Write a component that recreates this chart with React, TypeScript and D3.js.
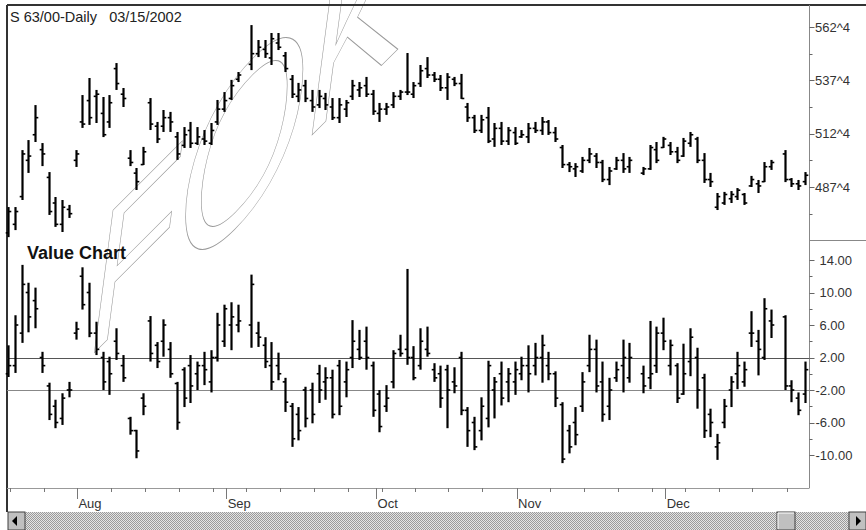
import React from "react";
import * as d3 from "d3";

const W = 866;
const H = 530;

const titleText = "S 63/00-Daily   03/15/2002";
const valueTitle = "Value Chart";
const watermarkLetters = ["F", "O", "K"];

// price ticks (in cents; ^4 = 4/8)
const priceTicks = [487.5, 512.5, 537.5, 562.5];
const priceMinorTicks = [475, 500, 525, 550];
const valueTicks = [14, 10, 6, 2, -2, -6, -10];
const valueMinorTicks = [12, 8, 4, 0, -4, -8];
const valueBands = [2, -2];
const monthLabels = ["Aug", "Sep", "Oct", "Nov", "Dec"];
const monthSlots = [10.2, 32.3, 54.5, 75.3, 97.3];
const weekSlots = [0.3, 5.3, 10.2, 15.2, 20.3, 25.3, 30.3, 35.3, 40.3, 45.3, 50.3, 55.3, 60.2, 65.1, 70.2, 75.3, 80.3, 85.3, 90.3, 95.3, 100.3, 105.2, 110.2, 115.3];

// OHLC price bars per trading slot [open, high, low, close]; null = no bar
const priceBars: ([number, number, number, number] | null)[] = [
  [466, 478.1, 464, 476], [470, 478.1, 467.3, 476], [483, 504.8, 481.4, 503], [500, 509.5, 494.1, 502],
  [512, 525.9, 508.6, 520], [505, 508.1, 497.3, 503], [492, 494.5, 474.4, 476], [480, 482.8, 468.8, 470],
  [470, 481.4, 466.4, 478], [477, 479.1, 473.0, 475], [500, 504.8, 496.9, 503], [518, 530.6, 515.2, 517],
  [528, 538.6, 516.6, 520], [530, 533.0, 517.5, 531], [522, 529.7, 510.9, 512], [518, 530.6, 515.2, 527],
  [543, 545.6, 533.0, 536], [531, 533.9, 525.0, 529], [501, 504.8, 497.3, 499], [494, 496.4, 486.1, 490],
  [498, 506.3, 497.8, 504], [527, 529.2, 514.2, 517], [516, 518.0, 508.1, 510], [516, 523.6, 513.3, 520],
  [520, 522.7, 513.3, 518], [511, 513.3, 500.2, 503], [507, 515.6, 505.8, 512], [514, 518.0, 505.8, 508],
  [508, 515.6, 507.2, 511], [510, 514.2, 507.2, 509], [508, 517.5, 507.2, 514], [518, 528.3, 516.6, 524],
  [524, 532.0, 522.7, 528], [529, 537.7, 528.3, 535], [538, 541.4, 536.7, 540], null,
  [545, 563.4, 542.3, 550], [550, 556.4, 548.4, 553], [552, 556.4, 548.0, 550], [548, 559.7, 544.7, 557],
  [555, 559.7, 551.7, 553], [549, 550.8, 541.4, 543], [538, 540.0, 529.2, 531], [530, 536.3, 527.3, 533],
  [535, 537.7, 527.3, 529], [528, 533.0, 522.7, 525], [526, 533.0, 524.5, 530], [529, 531.6, 523.6, 526],
  [525, 529.2, 518.9, 520], [520, 529.2, 517.5, 526], [524, 528.3, 520.3, 527], [530, 537.7, 528.3, 535],
  [533, 536.7, 529.7, 534], [535, 539.1, 529.7, 531], [531, 533.0, 521.3, 523], [522, 526.9, 518.0, 524],
  [524, 526.9, 521.3, 525], [526, 532.0, 524.5, 530], [530, 533.0, 528.3, 532], [532, 550.3, 530.6, 532],
  [531, 536.7, 529.2, 535], [536, 544.7, 534.4, 542], [543, 548.4, 538.6, 540], [540, 541.4, 536.7, 538],
  [538, 540.0, 532.5, 534], [534, 540.9, 528.3, 539], [538, 539.1, 534.8, 536], [536, 540.5, 528.8, 529],
  [525, 526.9, 518.0, 520], [520, 521.3, 512.8, 514], [514, 521.3, 512.8, 519], [520, 525.0, 508.1, 509],
  [510, 517.5, 506.3, 515], [515, 518.0, 507.2, 509], [509, 515.6, 507.2, 514], [513, 515.6, 507.2, 508],
  [511, 514.2, 510.5, 512], [511, 517.5, 508.1, 515], [515, 518.0, 512.8, 514], [514, 520.3, 511.9, 518],
  [518, 518.9, 511.9, 513], [513, 515.6, 508.6, 510], [506, 507.2, 496.4, 498], [498, 499.2, 494.5, 497],
  [496, 498.7, 492.2, 497], [495, 501.6, 494.1, 500], [500, 505.8, 498.7, 503], [502, 503.4, 496.4, 499],
  [499, 500.2, 489.8, 491], [491, 496.9, 488.4, 495], [496, 501.6, 495.5, 500], [500, 503.4, 494.1, 496],
  [497, 501.6, 494.1, 500], null, [494, 496.9, 493.1, 496], [496, 507.2, 495.5, 506],
  [505, 508.6, 498.7, 500], [506, 511.0, 505.8, 510], [507, 508.6, 502.5, 504], [504, 506.3, 498.7, 500],
  [502, 510.5, 501.6, 509], [508, 513.3, 506.3, 512], [510, 511.0, 498.7, 500], [500, 503.4, 489.4, 491],
  [491, 494.1, 487.5, 490], [478, 484.7, 476.7, 483], [480, 485.2, 479.1, 484], [482, 485.6, 480.0, 484],
  [483, 487.0, 481.4, 486], [484, 484.7, 479.1, 480], [488, 492.7, 487.5, 491], [489, 490.8, 484.7, 488],
  [490, 499.2, 489.8, 497], [497, 500.2, 495.5, 499], null, [503, 504.8, 489.8, 491],
  [491, 491.7, 487.5, 489], [489, 490.8, 486.1, 488], [490, 494.5, 488.4, 493],
];

// Value chart bars per slot [open, high, low, close]
const valueBars: ([number, number, number, number] | null)[] = [
  [0, 3.5, -0.4, 1], [1, 7.2, 0.1, 6], [5, 13.4, 3.8, 11], [10, 11.2, 5.1, 7],
  [9, 10.6, 5.6, 8], [2, 2.7, 0.1, 1], [-1.5, -1.1, -5.7, -5], [-4, -3.2, -6.7, -6],
  [-5.5, -2.4, -6.3, -3], [-2, -1.0, -2.9, -2], [5, 6.4, 4.2, 5.5], [12, 13.1, 7.9, 8.5],
  [10, 11.2, 4.5, 5], [5, 6.4, 2.3, 3], [2, 2.7, -2.0, -1], [1.5, 2.1, -2.6, 0],
  [4, 5.6, 1.7, 2.5], [1, 2.3, -1.0, -0.5], [-5.5, -5.3, -7.5, -7], [-7, -6.9, -10.4, -9.5],
  [-3, -2.4, -5.1, -4], [6.5, 7.1, 1.5, 2.5], [3.5, 3.9, 0.7, 1.5], [4, 6.7, 2.1, 6],
  [3, 3.9, -0.5, 0], [-1.2, -1.0, -6.9, -6], [0.5, 0.8, -4.1, -3], [1, 2.3, -3.6, -1.5],
  [0, 1.5, -2.0, 1], [1, 2.7, -1.4, 0.5], [-1, 2.9, -2.3, 2], [2, 7.5, 1.5, 6],
  [4, 8.5, 3.3, 8], [6, 8.8, 2.9, 7], [6, 8.5, 5.1, 6.5], null,
  [6, 12.2, 3.2, 11], [5, 6.4, 3.3, 4.5], [3.5, 4.5, 0.7, 1.5], [1, 3.9, -2.0, -1],
  [1, 2.6, -0.8, 0], [-1, -0.5, -4.7, -3.5], [-4, -3.6, -9.0, -8], [-5, -4.1, -8.2, -7],
  [-2, -1.6, -6.6, -5.5], [-2, -1.1, -6.1, -5], [0, 1.1, -3.6, -2], [-1, 0.8, -3.2, -0.5],
  [-0.5, 0.5, -5.5, -5], [1, 1.7, -5.1, -4], [-1, 1.5, -2.9, 0.5], [2, 6.6, 0.7, 4],
  [3, 5.4, 1.7, 2], [4, 5.8, 0.5, 2], [1, 1.5, -5.3, -4.5], [-2.5, -2.0, -7.2, -6.5],
  [-4, -1.4, -4.7, -3], [-1, 2.9, -1.8, 2.5], [3, 4.8, 2.1, 2.5], [3, 12.9, 1.1, 2],
  [2, 3.4, -0.8, -0.5], [1, 5.6, 0.5, 4], [3, 5.8, 2.1, 2.5], [0.5, 1.3, -1.0, -0.5],
  [0, 1.0, -4.2, -3], [0.5, 1.1, -6.7, -2], [-1, 0.8, -2.4, -1.5], [2, 2.7, -5.1, -4.5],
  [-4.5, -4.1, -9.0, -7], [-6, -5.3, -9.4, -9], [-7, -2.9, -8.2, -4], [-5.5, 1.6, -6.6, 1],
  [-2, -0.4, -5.5, -1], [0, 1.5, -3.9, -3], [-1, 0.7, -3.5, 0], [-1, 1.5, -2.6, 0.5],
  [0, 2.1, -0.8, 1], [1, 3.5, -2.3, 0], [1, 3.8, -0.2, 2], [2, 4.8, -1.1, 3.5],
  [1, 2.7, -0.8, 0], [0, 0.3, -4.1, -3], [-3.8, -3.5, -11.0, -10.5], [-7, -6.3, -9.8, -9],
  [-6, -4.1, -8.8, -7.5], [-4, 0.2, -4.7, -1], [1, 4.8, 0.2, 3], [3, 4.2, -2.3, -1.5],
  [-1, 1.5, -5.9, -5], [-4, -0.5, -5.7, -2], [-0.5, 1.5, -1.0, 0.5], [1, 4.2, -2.3, 2],
  [-0.5, 3.8, -1.1, 2], null, [0, 1.0, -2.4, -1.5], [-0.5, 6.5, -1.9, 0],
  [1, 5.8, 0.1, 5], [5, 6.9, 2.9, 4], [1, 4.2, -0.2, 3.5], [1, 1.3, -3.6, -3],
  [-2.5, 3.7, -2.6, 0], [1.5, 5.6, -0.3, 4.5], [2, 3.2, -4.3, -2], [-0.5, 0, -7.9, -7],
  [-5, -4.3, -7.8, -6], [-9, -7.4, -10.6, -8.5], [-6, -3.1, -6.7, -4], [-2, -0.3, -4.1, -1],
  [0, 2.7, -1.9, 1], [-1, 1.5, -1.6, 0.5], [5, 7.7, 3.3, 5], [4, 5.4, -0.2, 3],
  [2, 9.3, 1.7, 8], [6.5, 7.9, 4.4, 6], null, [7, 7.2, -2.0, -1.5],
  [-1.5, -0.8, -3.5, -2], [-3, -2.3, -5.1, -4.5], [-2.5, 1.5, -3.6, 0.5],
];

const FONT = "'Liberation Sans', Arial, sans-serif";

function fmtPrice(v: number) {
  const whole = Math.floor(v);
  const eighths = Math.round((v - whole) * 8);
  return `${whole}^${eighths}`;
}

function Bars({ data, x, y }: { data: ([number, number, number, number] | null)[]; x: any; y: any }) {
  return (
    <g stroke="#000" fill="none">
      {data.map((d, i) => {
        if (!d) return null;
        const [o, h, l, c] = d;
        const cx = Math.round(x(i)) + 0.5;
        return (
          <g key={i}>
            <line x1={cx} x2={cx} y1={y(h)} y2={y(l)} strokeWidth={2.2} />
            <line x1={cx - 2.8} x2={cx} y1={y(o)} y2={y(o)} strokeWidth={1.6} />
            <line x1={cx} x2={cx + 2.8} y1={y(c)} y2={y(c)} strokeWidth={1.6} />
          </g>
        );
      })}
    </g>
  );
}

export default function App() {
  const left = 7;
  const plotRight = 809.5;
  const top = 5;
  const split = 240;
  const plotBottom = 488;

  const x = d3.scaleLinear().domain([0, 118]).range([8, 805]);
  const yP = d3.scaleLinear().domain([487.5, 562.5]).range([187, 27]);
  const yV = d3.scaleLinear().domain([-10, 14]).range([455, 260]);

  // watermark letter placement in the skewed local frame
  const wmX = [0, 111, 279];
  const wmY = [0, 15, 0];
  const wmSize = [180, 216, 190];

  return (
    <svg width={W} height={H} style={{ position: "fixed", left: 0, top: 0, background: "#fff" }} fontFamily={FONT}>
      <defs>
        <pattern id="dither" width={2} height={2} patternUnits="userSpaceOnUse">
          <rect width={2} height={2} fill="#e4e4e4" />
          <rect width={1} height={1} fill="#9a9a9a" />
          <rect x={1} y={1} width={1} height={1} fill="#9a9a9a" />
        </pattern>
      </defs>
      <rect width={W} height={H} fill="#fff" />

      {/* watermark */}
      <g transform="translate(90,357) skewY(-45) scale(0.78,1)">
        {watermarkLetters.map((ch, i) => (
          <text
            key={ch}
            x={wmX[i]}
            y={wmY[i]}
            fontFamily="'Liberation Sans', Arial, sans-serif"
            fontStyle="italic"
            fontSize={wmSize[i]}
            fill="none"
            stroke="#9a9a9a"
            strokeWidth={0.8}
          >
            {ch}
          </text>
        ))}
      </g>

      {/* frame */}
      <line x1={left} x2={W} y1={top} y2={top} stroke="#333" strokeWidth={2} />
      <line x1={left} x2={left} y1={top} y2={512} stroke="#333" strokeWidth={2} />
      <line x1={plotRight} x2={plotRight} y1={top} y2={plotBottom} stroke="#888" strokeWidth={1} />
      <line x1={plotRight} x2={W} y1={split + 0.5} y2={split + 0.5} stroke="#888" strokeWidth={1} />
      <line x1={left} x2={plotRight} y1={plotBottom + 0.5} y2={plotBottom + 0.5} stroke="#999" strokeWidth={1} />

      {/* value bands */}
      {valueBands.map((v, i) => (
        <line key={v} x1={left} x2={plotRight} y1={Math.round(yV(v)) + 0.5} y2={Math.round(yV(v)) + 0.5}
          stroke={i === 0 ? "#555" : "#888"} strokeWidth={1} />
      ))}

      <Bars data={priceBars} x={x} y={yP} />
      <Bars data={valueBars} x={x} y={yV} />

      {/* price axis */}
      {priceTicks.map((v) => (
        <g key={v}>
          <line x1={plotRight} x2={plotRight + 5} y1={Math.round(yP(v)) + 0.5} y2={Math.round(yP(v)) + 0.5} stroke="#666" />
          <text x={plotRight + 5.5} y={yP(v) + 4.5} fontSize={13} fill="#333">{fmtPrice(v)}</text>
        </g>
      ))}
      {priceMinorTicks.map((v) => (
        <line key={v} x1={plotRight} x2={plotRight + 3} y1={Math.round(yP(v)) + 0.5} y2={Math.round(yP(v)) + 0.5} stroke="#666" />
      ))}

      {/* value axis */}
      {valueTicks.map((v) => (
        <g key={v}>
          <line x1={plotRight} x2={plotRight + 5} y1={Math.round(yV(v)) + 0.5} y2={Math.round(yV(v)) + 0.5} stroke="#666" />
          <text x={v < 0 ? plotRight + 6 : plotRight + 10} y={yV(v) + 4.5} fontSize={13} fill="#333">{v.toFixed(2)}</text>
        </g>
      ))}
      {valueMinorTicks.map((v) => (
        <line key={v} x1={plotRight} x2={plotRight + 3} y1={Math.round(yV(v)) + 0.5} y2={Math.round(yV(v)) + 0.5} stroke="#666" />
      ))}

      {/* x axis */}
      {weekSlots.map((s) => (
        <line key={s} x1={Math.round(x(s)) + 0.5} x2={Math.round(x(s)) + 0.5} y1={plotBottom} y2={plotBottom + 4} stroke="#777" />
      ))}
      {monthSlots.map((s, i) => (
        <g key={s}>
          <line x1={Math.round(x(s)) + 0.5} x2={Math.round(x(s)) + 0.5} y1={plotBottom} y2={plotBottom + 11} stroke="#777" />
          <text x={x(s) + 1.5} y={508} fontSize={13} fill="#333">{monthLabels[i]}</text>
        </g>
      ))}

      {/* titles */}
      <text x={10} y={22} fontSize={14.5} fill="#222" style={{ whiteSpace: "pre" }}>{titleText}</text>
      <text x={27} y={259} fontSize={18} fontWeight="bold" fill="#111">{valueTitle}</text>

      {/* scrollbar */}
      <rect x={8} y={512} width={W - 8} height={18} fill="url(#dither)" />
      <g>
        <rect x={8} y={512} width={17} height={18} fill="#c0c0c0" stroke="#404040" />
        <path d="M12,521 L17,516 L17,526 Z" fill="#000" />
      </g>
      <g>
        <rect x={777} y={512} width={18} height={18} fill="#c0c0c0" stroke="#404040" />
        <line x1={778} x2={794} y1={513} y2={513} stroke="#fff" />
        <line x1={778} x2={778} y1={513} y2={529} stroke="#fff" />
      </g>
      <g>
        <rect x={849} y={512} width={17} height={18} fill="#c0c0c0" stroke="#404040" />
        <path d="M861,521 L856,516 L856,526 Z" fill="#000" />
      </g>
    </svg>
  );
}
